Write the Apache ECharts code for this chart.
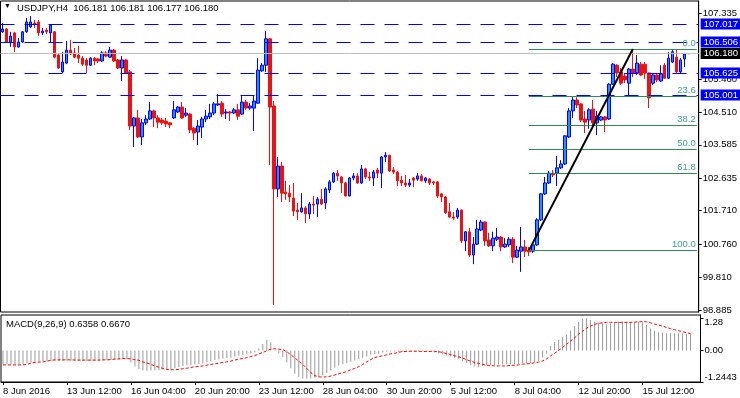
<!DOCTYPE html>
<html>
<head>
<meta charset="utf-8">
<script src="https://cdn.jsdelivr.net/npm/echarts@6/dist/echarts.min.js"></script>
<style>
html, body { margin: 0; padding: 0; background: #fff; }
#main { width: 740px; height: 398px; }
</style>
</head>
<body>
<div id="main"></div>
<script>
// USDJPY H4 bars, [open, close, low, high]
var candles = [
  [106.80,106.88,106.77,107.05],[106.88,106.51,106.48,106.91],[106.51,106.68,106.37,106.80],[106.77,106.37,106.23,106.80],
  [106.37,106.51,106.35,106.62],[106.51,106.80,106.49,106.82],[106.80,107.08,106.77,107.19],[106.94,107.08,106.91,107.25],
  [107.05,107.02,106.91,107.14],[107.08,106.77,106.68,107.14],[106.77,106.82,106.71,106.91],[106.85,106.80,106.74,106.91],
  [106.77,106.99,106.51,107.02],[106.80,106.08,106.05,106.82],[106.14,105.77,105.74,106.17],[105.66,105.94,105.63,106.23],
  [105.91,106.28,105.88,106.54],[106.28,106.17,106.14,106.57],[106.20,106.08,106.05,106.34],[106.14,106.05,105.91,106.40],
  [106.05,105.88,105.83,106.11],[106.00,105.85,105.63,106.05],[105.85,106.05,105.83,106.08],[106.05,105.97,105.85,106.08],
  [106.03,105.97,105.91,106.05],[105.97,106.20,105.94,106.25],[106.20,106.11,106.08,106.25],[106.08,106.28,106.06,106.37],
  [106.28,105.97,105.94,106.31],[106.00,105.77,105.74,106.03],[105.77,106.00,105.40,106.11],[106.00,105.63,105.60,106.03],
  [105.66,104.12,104.01,105.71],[104.12,104.35,103.52,104.38],[104.35,103.81,103.78,104.58],[103.81,104.21,103.58,104.32],
  [104.21,104.32,104.15,104.43],[104.32,104.55,104.29,104.80],[104.55,104.35,104.09,104.58],[104.35,104.23,104.06,104.43],
  [104.29,104.21,104.15,104.35],[104.26,104.18,104.09,104.35],[104.21,104.15,104.06,104.23],[104.35,104.58,104.32,104.83],
  [104.52,104.66,104.49,104.69],[104.66,104.35,104.32,104.80],[104.43,104.49,104.38,104.63],[104.46,104.01,103.92,104.49],
  [104.06,103.92,103.72,104.09],[103.95,104.12,103.58,104.29],[104.09,104.32,103.78,104.38],[104.32,104.40,104.23,104.58],
  [104.38,104.49,104.32,104.75],[104.49,104.75,104.43,104.80],[104.72,104.75,104.69,105.03],[104.77,104.46,104.38,104.83],
  [104.49,104.52,104.32,104.60],[104.52,104.49,104.26,104.55],[104.49,104.58,104.46,104.63],[104.58,104.40,104.29,104.75],
  [104.46,104.80,104.43,105.00],[104.80,104.63,104.58,104.86],[104.63,104.69,104.58,104.77],[104.63,104.83,103.98,105.00],
  [104.77,105.71,104.75,106.05],[105.69,105.85,105.66,105.91],[105.85,106.60,105.66,106.82],[106.60,104.66,103.01,106.62],
  [104.69,102.33,99.03,104.83],[102.33,102.98,102.10,103.24],[102.98,102.21,101.96,103.10],[102.24,102.19,102.02,102.56],
  [102.21,102.10,101.96,102.44],[102.07,101.70,101.56,102.50],[101.73,101.68,101.45,101.93],[101.68,101.79,101.65,102.21],
  [101.79,101.62,101.36,101.84],[101.62,101.90,101.48,101.96],[101.90,101.87,101.62,102.13],[101.90,102.04,101.53,102.10],
  [102.04,101.90,101.87,102.33],[101.93,102.33,101.76,102.38],[102.30,102.53,102.21,102.58],[102.53,102.78,102.50,102.81],
  [102.78,102.70,102.56,102.87],[102.67,102.50,102.21,102.70],[102.50,102.13,102.12,102.53],[102.13,102.64,102.12,102.67],
  [102.64,102.70,102.58,102.78],[102.70,102.50,102.47,102.78],[102.50,102.90,102.47,103.01],[102.90,102.67,102.61,102.93],
  [102.67,102.64,102.56,102.81],[102.64,102.81,102.41,102.87],[102.87,102.78,102.64,102.93],[102.78,103.24,102.36,103.27],
  [103.24,103.29,103.10,103.38],[103.29,102.84,102.81,103.30],[102.87,102.81,102.75,102.95],[102.81,102.56,102.41,102.84],
  [102.58,102.50,102.41,102.70],[102.50,102.44,102.38,102.73],[102.44,102.50,102.38,102.61],[102.64,102.58,102.38,102.67],
  [102.61,102.70,102.56,102.78],[102.70,102.56,102.55,102.75],[102.56,102.64,102.50,102.67],[102.61,102.50,102.44,102.64],
  [102.53,102.50,102.44,102.56],[102.53,102.13,102.07,102.56],[102.19,102.10,101.96,102.21],[102.10,101.65,101.62,102.13],
  [101.68,101.53,101.50,101.93],[101.53,101.50,101.45,101.67],[101.53,101.73,101.48,101.79],[101.73,100.85,100.79,101.74],
  [100.85,101.11,100.56,101.13],[101.11,100.45,100.39,101.22],[100.45,100.76,100.19,100.96],[100.76,101.19,100.74,101.45],
  [101.16,101.39,101.13,101.45],[101.39,100.85,100.71,101.40],[100.88,100.71,100.68,101.08],[100.71,100.93,100.56,101.11],
  [100.90,100.96,100.85,101.22],[100.96,100.68,100.56,100.99],[100.68,100.76,100.65,100.93],[100.74,100.90,100.68,100.96],
  [100.90,100.39,100.22,100.96],[100.39,100.59,100.36,100.71],[100.56,100.68,99.97,101.25],[100.68,100.56,100.39,100.88],
  [100.59,100.54,100.42,100.68],[100.56,100.74,100.51,100.76],[100.74,101.45,100.71,101.50],[101.45,102.19,101.42,102.21],
  [102.19,102.50,102.16,102.67],[102.50,102.78,102.47,102.84],[102.78,102.73,102.67,102.87],[102.78,102.93,102.41,103.27],
  [102.93,103.04,102.90,103.15],[103.04,103.84,103.01,103.86],[103.81,104.55,103.78,104.63],[104.55,104.86,104.35,104.94],
  [104.86,104.72,104.63,104.94],[104.75,104.29,104.23,104.77],[104.32,104.23,103.92,104.55],[104.29,104.58,104.04,104.63],
  [104.60,104.21,104.15,104.86],[104.21,104.40,103.86,104.55],[104.29,104.38,104.26,104.40],[104.38,104.29,103.95,104.40],
  [104.32,105.31,104.29,105.34],[105.31,105.88,105.29,105.91],[105.85,105.63,105.51,105.88],[105.66,105.34,105.29,105.77],
  [105.54,105.43,105.34,105.63],[105.34,105.74,105.00,105.77],[105.74,105.63,105.51,106.31],[105.63,105.91,105.57,106.14],
  [105.88,105.57,105.54,105.94],[105.88,105.63,105.46,105.94],[105.63,104.92,104.63,105.64],[105.34,105.57,105.29,105.63],
  [105.57,105.43,105.37,105.63],[105.40,105.60,105.37,105.85],[105.85,105.48,105.46,105.91],[105.48,106.05,105.46,106.23],
  [105.94,106.23,105.91,106.28],[106.08,105.66,105.60,106.31],[105.66,106.00,105.60,106.05],[106.03,106.17,105.80,106.20],
  [106.181,106.180,106.177,106.181]
];

// MACD(9,26,9) main histogram and signal
var macdHist = [
  -0.54,-0.54,-0.54,-0.54,-0.53,-0.53,-0.50,-0.47,-0.45,-0.43,
  -0.42,-0.42,-0.41,-0.41,-0.42,-0.42,-0.41,-0.41,-0.41,-0.41,
  -0.42,-0.42,-0.42,-0.42,-0.41,-0.41,-0.39,-0.38,-0.37,-0.36,
  -0.34,-0.34,-0.47,-0.63,-0.74,-0.79,-0.80,-0.79,-0.79,-0.78,
  -0.76,-0.75,-0.74,-0.70,-0.66,-0.62,-0.58,-0.57,-0.55,-0.53,
  -0.50,-0.46,-0.43,-0.39,-0.36,-0.33,-0.30,-0.28,-0.24,-0.21,
  -0.17,-0.13,-0.11,-0.07,0.08,0.26,0.42,0.32,0.03,-0.11,
  -0.26,-0.47,-0.70,-0.92,-1.05,-1.11,-1.12,-1.11,-1.08,-1.04,
  -0.99,-0.89,-0.79,-0.68,-0.59,-0.54,-0.50,-0.45,-0.39,-0.34,
  -0.29,-0.24,-0.17,-0.14,-0.13,-0.09,-0.05,-0.04,-0.04,-0.05,
  -0.05,-0.04,-0.04,-0.04,-0.03,-0.03,-0.04,-0.05,-0.08,-0.12,
  -0.16,-0.20,-0.24,-0.29,-0.34,-0.43,-0.50,-0.58,-0.63,-0.66,
  -0.61,-0.58,-0.57,-0.57,-0.55,-0.54,-0.54,-0.54,-0.54,-0.53,
  -0.51,-0.50,-0.49,-0.46,-0.41,-0.28,-0.11,0.18,0.33,0.42,
  0.53,0.64,0.79,0.97,1.12,1.26,1.27,1.20,1.13,1.10,
  1.07,1.03,1.06,1.11,1.14,1.14,1.13,1.11,1.11,1.13,
  1.11,1.01,0.87,0.78,0.72,0.70,0.68,0.68,0.68,0.68,
  0.67,0.66,0.6358
];
var macdSignal = [
  -0.57,-0.57,-0.57,-0.57,-0.57,-0.57,-0.55,-0.50,-0.47,-0.46,
  -0.45,-0.42,-0.39,-0.37,-0.37,-0.37,-0.37,-0.37,-0.38,-0.38,
  -0.38,-0.38,-0.38,-0.38,-0.38,-0.37,-0.37,-0.36,-0.34,-0.33,
  -0.32,-0.32,-0.33,-0.36,-0.39,-0.45,-0.50,-0.55,-0.61,-0.66,
  -0.71,-0.75,-0.76,-0.76,-0.75,-0.72,-0.70,-0.67,-0.64,-0.63,
  -0.61,-0.58,-0.55,-0.53,-0.50,-0.47,-0.45,-0.42,-0.38,-0.34,
  -0.32,-0.28,-0.24,-0.20,-0.14,-0.08,-0.01,0.05,0.07,0.05,
  0.03,-0.05,-0.17,-0.29,-0.42,-0.55,-0.71,-0.87,-0.99,-1.04,
  -1.05,-1.04,-1.01,-0.97,-0.92,-0.88,-0.83,-0.76,-0.71,-0.64,
  -0.55,-0.45,-0.36,-0.28,-0.24,-0.21,-0.17,-0.13,-0.11,-0.07,
  -0.04,-0.04,-0.03,-0.03,-0.03,-0.04,-0.04,-0.04,-0.04,-0.05,
  -0.08,-0.12,-0.16,-0.21,-0.25,-0.30,-0.37,-0.42,-0.47,-0.51,
  -0.55,-0.58,-0.59,-0.61,-0.61,-0.61,-0.61,-0.59,-0.58,-0.57,
  -0.54,-0.53,-0.51,-0.49,-0.46,-0.41,-0.33,-0.21,-0.11,0.00,
  0.12,0.25,0.37,0.50,0.64,0.76,0.88,0.96,1.03,1.07,
  1.09,1.11,1.11,1.11,1.11,1.11,1.11,1.11,1.12,1.13,
  1.14,1.13,1.09,1.04,1.00,0.96,0.91,0.86,0.82,0.78,
  0.74,0.70,0.667
];

var timeLabels = ['8 Jun 2016', '13 Jun 12:00', '16 Jun 04:00', '20 Jun 20:00', '23 Jun 12:00', '28 Jun 04:00',
                  '30 Jun 20:00', '5 Jul 12:00', '8 Jul 04:00', '12 Jul 20:00', '15 Jul 12:00'];
var priceTicks = [107.335, 105.460, 104.510, 103.585, 102.635, 101.710, 100.760, 99.810, 98.885];
var macdTicks = [1.28, 0, -1.2443];
var levelLines = [107.017, 106.506, 105.625, 105.001];
var bidPrice = 106.180;
var fibLevels = ['0.0', '23.6', '38.2', '50.0', '61.8', '100.0'];
var fibPrices = [106.31, 104.96, 104.13, 103.45, 102.78, 100.59];
var fibStartBar = 132;
var trendLine = [[132, 100.59], [158, 106.31]];

// 2 empty slots on the right (chart shift)
var slots = candles.length + 2;
var categories = [];
for (var i = 0; i < slots; i++) categories.push(i);

var font = 'Liberation Sans';

var marks = [];
levelLines.forEach(function (v) {
    marks.push({
        yAxis: v,
        lineStyle: {color: '#0000ff', type: [14, 10], width: 1},
        label: {show: true, position: 'end', distance: 2, formatter: v.toFixed(3),
                backgroundColor: '#0000ff', color: '#fff', padding: [1, 3, 0, 3],
                fontSize: 9.5, fontFamily: font, lineHeight: 10}
    });
});
marks.push({
    yAxis: bidPrice,
    lineStyle: {color: '#c0c0c0', type: 'solid', width: 1},
    label: {show: true, position: 'end', distance: 2, formatter: bidPrice.toFixed(3),
            backgroundColor: '#000', color: '#fff', padding: [1, 3, 0, 3],
            fontSize: 9.5, fontFamily: font, lineHeight: 10}
});
fibPrices.forEach(function (p, k) {
    marks.push([
        {coord: [fibStartBar, p], lineStyle: {color: '#2e8b57', type: 'solid', width: 1},
         label: {show: true, position: 'insideEndTop', distance: 1, formatter: fibLevels[k],
                 color: '#3f9c8e', fontSize: 9.5, fontFamily: font}},
        {coord: [slots - 1, p]}
    ]);
});
marks.push([
    {coord: trendLine[0], lineStyle: {color: '#000', type: 'solid', width: 2}, label: {show: false}},
    {coord: trendLine[1]}
]);

var myChart = echarts.init(document.getElementById('main'));
var option = {
    animation: false,
    textStyle: {fontFamily: font},
    grid: [
        {left: 0.5, top: 1, width: 700, height: 311, show: true, borderColor: '#000', borderWidth: 1, backgroundColor: '#fff'},
        {left: 0.5, top: 315, width: 700, height: 67, show: true, borderColor: '#000', borderWidth: 1, backgroundColor: '#fff'}
    ],
    graphic: [
        {type: 'text', left: 4, top: 3, style: {text: '\u25BC', fontSize: 7, fill: '#000'}},
        {type: 'text', left: 17, top: 3, style: {text: 'USDJPY,H4  106.181 106.181 106.177 106.180',
            font: '9.5px "Liberation Sans"', fill: '#000'}},
        {type: 'text', left: 6, top: 319, style: {text: 'MACD(9,26,9) 0.6358 0.6670',
            font: '9.5px "Liberation Sans"', fill: '#000'}}
    ],
    xAxis: [
        {type: 'category', gridIndex: 0, data: categories, show: false},
        {type: 'category', gridIndex: 1, data: categories,
         axisLine: {onZero: false, lineStyle: {color: '#000'}},
         axisTick: {show: true, interval: 15, alignWithLabel: true, length: 3, lineStyle: {color: '#000'}},
         axisLabel: {interval: 15, align: 'left', margin: 4, fontSize: 9.5, color: '#000',
             formatter: function (v, idx) {
                 return idx % 16 === 0 && timeLabels[idx / 16] ? timeLabels[idx / 16] : '';
             }}}
    ],
    yAxis: [
        {type: 'value', gridIndex: 0, position: 'right', min: 98.829, max: 107.677,
         splitLine: {show: false},
         axisLine: {show: true, lineStyle: {color: '#000'}},
         axisTick: {show: true, length: 3, customValues: priceTicks, lineStyle: {color: '#000'}},
         axisLabel: {customValues: priceTicks, margin: 4, fontSize: 9.5, color: '#000',
             formatter: function (v) { return v.toFixed(3); }}},
        {type: 'value', gridIndex: 1, position: 'right', min: -1.2443, max: 1.40,
         splitLine: {show: false},
         axisLine: {show: true, lineStyle: {color: '#000'}},
         axisTick: {show: true, length: 3, customValues: macdTicks, lineStyle: {color: '#000'}},
         axisLabel: {customValues: macdTicks, margin: 4, fontSize: 9.5, color: '#000',
             formatter: function (v) {
                 if (v > 1) return '{t|1.28}';
                 if (v < -1) return '{b|-1.2443}';
                 return '0.00';
             },
             rich: {t: {padding: [9, 0, 0, 0], fontSize: 9.5}, b: {padding: [0, 0, 10, 0], fontSize: 9.5}}}}
    ],
    series: [
        {
            name: 'USDJPY',
            type: 'candlestick',
            xAxisIndex: 0, yAxisIndex: 0,
            data: candles,
            barWidth: 3,
            itemStyle: {color: '#1e90ff', color0: '#ee1111', borderColor: '#0000ff', borderColor0: '#ee1111', borderWidth: 1},
            markLine: {silent: true, symbol: ['none', 'none'], animation: false, data: marks}
        },
        {
            name: 'MACD',
            type: 'bar',
            xAxisIndex: 1, yAxisIndex: 1,
            data: macdHist,
            barWidth: 1,
            itemStyle: {color: '#999999'}
        },
        {
            name: 'Signal',
            type: 'line',
            xAxisIndex: 1, yAxisIndex: 1,
            data: macdSignal,
            symbol: 'none',
            lineStyle: {color: '#ff0000', width: 1, type: [3, 2]}
        }
    ]
};
myChart.setOption(option);
</script>
</body>
</html>
